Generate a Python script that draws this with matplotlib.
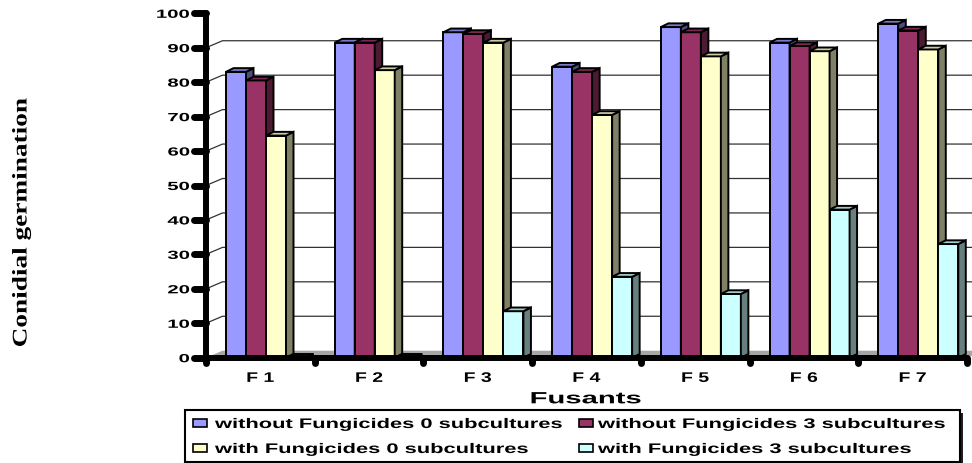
import numpy as np
import matplotlib
matplotlib.use("Agg")
import matplotlib.pyplot as plt
from matplotlib.patches import Polygon, Rectangle
from matplotlib.patheffects import AbstractPathEffect
from matplotlib.transforms import Affine2D
from matplotlib.colors import to_rgb

# ---- data -------------------------------------------------------------
categories = ["F 1", "F 2", "F 3", "F 4", "F 5", "F 6", "F 7"]
series_names = [
    "without Fungicides 0 subcultures",
    "without Fungicides 3 subcultures",
    "with Fungicides 0 subcultures",
    "with Fungicides 3 subcultures",
]
without_fung_0 = [83, 91.5, 94.5, 84.5, 96, 91.5, 97]
without_fung_3 = [80.5, 91.5, 94, 83, 94.5, 90.5, 95]
with_fung_0 = [64.5, 83.5, 91.5, 70.5, 87.5, 89, 89.5]
with_fung_3 = [0, 0, 13.5, 23.5, 18.5, 43, 33]
y_ticks = [0, 10, 20, 30, 40, 50, 60, 70, 80, 90, 100]
grid_values = [10, 20, 30, 40, 50, 60, 70, 80, 90]

colors = ["#9999FF", "#993366", "#FFFFCC", "#CCFFFF"]

plt.rcParams["font.family"] = ["Liberation Sans", "DejaVu Sans"]
plt.rcParams["font.weight"] = "bold"


class Widen(AbstractPathEffect):
    """Stretch glyphs horizontally (in the text's own frame)."""

    def __init__(self, sx, anchor="left"):
        super().__init__()
        self.sx = sx
        self.anchor = anchor

    def draw_path(self, renderer, gc, tpath, affine, rgbFace=None):
        ext = tpath.get_extents()
        cx = {"left": ext.x0, "center": 0.5 * (ext.x0 + ext.x1),
              "right": ext.x1}[self.anchor]
        stretch = Affine2D().translate(-cx, 0).scale(self.sx, 1).translate(cx, 0)
        renderer.draw_path(gc, tpath, stretch + affine, rgbFace)


def shade(c, f):
    r, g, b = to_rgb(c)
    return (r * f, g * f, b * f)


W, H = 972, 463
fig = plt.figure(figsize=(W / 100, H / 100), dpi=100)
ax_left, ax_w = 206, 761
ax_bottom, ax_h = 105.3, 344.4
ax = fig.add_axes([ax_left / W, ax_bottom / H, ax_w / W, ax_h / H])
n_cat = len(categories)
ax.set_xlim(0, n_cat)
ax.set_ylim(0, 100)
ax.patch.set_visible(False)

# pixel -> data conversions for the pseudo-3D depth
dpx = n_cat / ax_w
dpy = 100 / ax_h
wall_dx, wall_dy = 16.5 * dpx, 7 * dpy      # back wall depth
bar_dx, bar_dy = 7.5 * dpx, 3.7 * dpy       # bar depth

# floor
floor = Polygon([(0, 0), (n_cat, 0), (n_cat + wall_dx, wall_dy), (wall_dx, wall_dy)],
                closed=True, fc="#a6a6a6", ec="none", zorder=1, clip_on=False)
ax.add_patch(floor)

# back-wall gridlines with the short connectors from the value axis
for v in grid_values:
    ax.plot([0, wall_dx, n_cat + 2 * wall_dx], [v, v + wall_dy, v + wall_dy],
            color="#333333", lw=0.9, zorder=1.5, clip_on=False)

# bars
x = np.arange(n_cat)
bar_w = 20 * dpx
lead = 20 * dpx
series = [without_fung_0, without_fung_3, with_fung_0, with_fung_3]
for k, (vals, col) in enumerate(zip(series, colors)):
    bars = ax.bar(x + lead + k * bar_w, vals, width=bar_w, align="edge",
                  color=col, edgecolor="black", linewidth=1.4, zorder=3 + k,
                  label=series_names[k])
    for b in bars:
        x0, w, h = b.get_x(), b.get_width(), b.get_height()
        side = Polygon([(x0 + w, 0), (x0 + w + bar_dx, bar_dy),
                        (x0 + w + bar_dx, h + bar_dy), (x0 + w, h)],
                       closed=True, fc=shade(col, 0.5), ec="black", lw=1.4,
                       zorder=3.5 + k, joinstyle="miter")
        top = Polygon([(x0, h), (x0 + w, h), (x0 + w + bar_dx, h + bar_dy),
                       (x0 + bar_dx, h + bar_dy)],
                      closed=True, fc=shade(col, 0.8), ec="black", lw=1.4,
                      zorder=3.5 + k, joinstyle="miter")
        ax.add_patch(side)
        ax.add_patch(top)

# axes lines
for s in ["top", "right"]:
    ax.spines[s].set_visible(False)
for s in ["left", "bottom"]:
    ax.spines[s].set_linewidth(4.3)
    ax.spines[s].set_capstyle("round")
    ax.spines[s].set_zorder(10)

# tick marks drawn as rounded stubs
for v in y_ticks:
    ax.plot([0, -12 * dpx], [v, v], color="black", lw=5, solid_capstyle="round",
            clip_on=False, zorder=11)
for i in range(n_cat + 1):
    ax.plot([i, i], [0, -5 * dpy], color="black", lw=5, solid_capstyle="round",
            clip_on=False, zorder=11)

ax.set_yticks(y_ticks)
ax.set_xticks(x + 0.5, categories)
ax.tick_params(axis="both", length=0)
ax.tick_params(axis="y", pad=11.8, labelsize=8.5)
ax.tick_params(axis="x", pad=9.5, labelsize=10)
for lab in ax.get_yticklabels():
    lab.set_path_effects([Widen(1.72, "right")])
for lab in ax.get_xticklabels():
    lab.set_path_effects([Widen(1.4, "center")])

ax.set_xlim(0, n_cat)
ax.set_ylim(0, 100)

# axis titles
ax.set_ylabel("Conidial germination", family=["Liberation Serif", "DejaVu Serif"],
              weight="bold", fontsize=15)
ax.yaxis.set_label_coords(21.5 / W, 1 - 222.5 / H, transform=fig.transFigure)
ax.yaxis.label.set_va("center")
ax.yaxis.label.set_path_effects([Widen(1.31, "center")])

ax.set_xlabel("Fusants", fontsize=11.7, weight="bold")
ax.xaxis.set_label_coords(585.8 / W, 1 - 403.3 / H, transform=fig.transFigure)
ax.xaxis.label.set_va("baseline")
ax.xaxis.label.set_path_effects([Widen(1.8, "center")])


# legend box
def fxy(px, py):
    return (px / W, 1 - py / H)


box_l, box_t, box_r, box_b = 185, 410, 960, 461.5
shadow = Rectangle(fxy(box_l + 3, box_b + 3), (box_r - box_l) / W, (box_b - box_t) / H,
                   transform=fig.transFigure, fc="#202020", ec="none", zorder=1)
frame = Rectangle(fxy(box_l, box_b), (box_r - box_l) / W, (box_b - box_t) / H,
                  transform=fig.transFigure, fc="white", ec="black", lw=1.5, zorder=1.1)
fig.add_artist(shadow)
fig.add_artist(frame)

col_marker_x = [192.5, 579]
col_text_x = [215, 598]
row_base = [428, 453]
for k, (name, col) in enumerate(zip(series_names, colors)):
    r, c = divmod(k, 2)
    mx, base = col_marker_x[c], row_base[r]
    fig.add_artist(Rectangle(fxy(mx, base - 1), 14 / W, 8 / H,
                             transform=fig.transFigure, fc=col, ec="black",
                             lw=1.2, zorder=2))
    fig.text(col_text_x[c] / W, 1 - base / H, name, fontsize=10, ha="left",
             va="baseline", path_effects=[Widen(1.575, "left")], zorder=3)

fig.savefig("out.png", dpi=100)
